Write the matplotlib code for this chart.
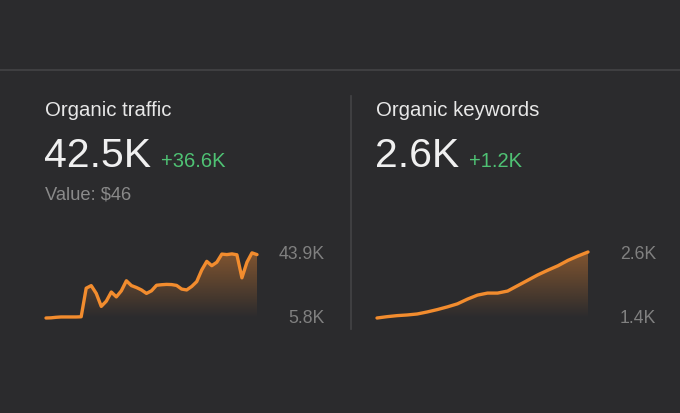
import numpy as np
import matplotlib.pyplot as plt

# Datos (miles)
traffic = [5.8, 5.9, 6.2, 6.4, 6.4, 6.4, 6.4, 6.5, 23.0, 24.5, 20.0, 12.5, 15.5,
           20.8, 18.0, 21.5, 27.3, 24.5, 23.4, 22.0, 20.0, 21.5, 24.7, 25.0, 25.2,
           25.1, 24.6, 22.5, 22.0, 24.0, 26.8, 33.5, 38.5, 36.0, 38.0, 42.7, 42.4,
           42.8, 42.3, 29.0, 38.0, 43.4, 42.4]
keywords = [1.400, 1.424, 1.443, 1.455, 1.473, 1.510, 1.553, 1.602, 1.657, 1.743,
            1.816, 1.853, 1.853, 1.890, 1.988, 2.086, 2.184, 2.269, 2.349, 2.447,
            2.527, 2.600]

titles = ["Organic traffic", "Organic keywords"]
totals = ["42.5K", "2.6K"]
deltas = ["+36.6K", "+1.2K"]
y_labels = [("43.9K", "5.8K"), ("2.6K", "1.4K")]
y_limits = [(5.8, 43.9), (1.4, 2.6)]
series = [traffic, keywords]

W, H = 680, 414
bg = '#2b2b2d'
orange = '#f28c2e'
green = '#4fc274'
font = 'Liberation Sans'

fig = plt.figure(figsize=(W / 100, H / 100), dpi=100, facecolor=bg)


def fx(x):
    return x / W


def fy(y):
    return 1 - y / H


# Lineas divisorias
fig.add_artist(plt.Line2D([0, 1], [fy(71), fy(71)], color='#444446', lw=1.2))
fig.add_artist(plt.Line2D([fx(351), fx(351)], [fy(97), fy(330)], color='#444446', lw=1.2))

lefts = [45, 376]
delta_x = [161, 469]
for k in range(2):
    x0 = lefts[k]
    fig.text(fx(x0), fy(116), titles[k], color='#e8e8e8', fontsize=14.7,
             family=font, va='baseline')
    fig.text(fx(x0 - 1), fy(167), totals[k], color='#f0f0f0', fontsize=29.5,
             family=font, va='baseline')
    fig.text(fx(delta_x[k]), fy(167), deltas[k], color=green, fontsize=14.5,
             family=font, va='baseline')

fig.text(fx(45), fy(200), "Value: $46", color='#8a8a8a', fontsize=13.2,
         family=font, va='baseline')

# Graficas pequenas
grad = np.zeros((100, 1, 4))
grad[:, 0, 0] = 0.85
grad[:, 0, 1] = 0.50
grad[:, 0, 2] = 0.20
grad[:, 0, 3] = np.linspace(0.5, 0.0, 100)

for k in range(2):
    vals = np.array(series[k])
    x = np.arange(len(vals))
    lo, hi = y_limits[k]
    x_left = lefts[k] + 1
    x_right = x_left + 211
    ax = fig.add_axes([fx(x_left), fy(319), fx(x_right - x_left), (319 - 253) / H])
    ax.set_facecolor('none')
    ax.set_xlim(0, len(vals) - 1)
    ax.set_ylim(lo, hi)
    ax.axis('off')

    poly = ax.fill_between(x, vals, lo, color='none', lw=0)
    img = ax.imshow(grad, extent=[0, len(vals) - 1, lo, hi], aspect='auto',
                    origin='upper', zorder=1)
    img.set_clip_path(poly.get_paths()[0], transform=ax.transData)
    ax.plot(x, vals, color=orange, lw=2.4, solid_joinstyle='round',
            solid_capstyle='round', clip_on=False, zorder=3)

    right = x_right + 68
    fig.text(fx(right), fy(259), y_labels[k][0], color='#808080', fontsize=12.7,
             family=font, ha='right', va='baseline')
    fig.text(fx(right), fy(323), y_labels[k][1], color='#808080', fontsize=12.7,
             family=font, ha='right', va='baseline')

plt.savefig('out.png', dpi=100, facecolor=bg)
